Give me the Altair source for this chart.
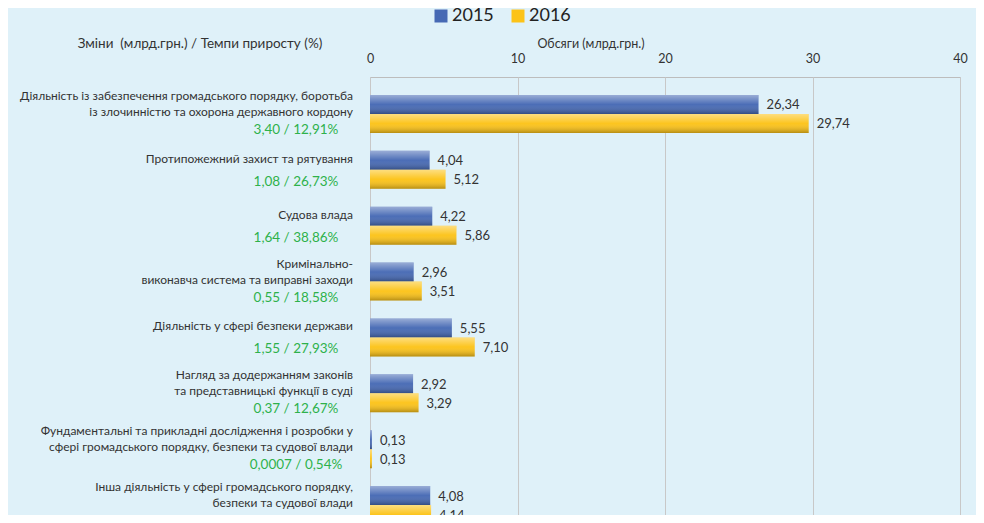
import altair as alt
import pandas as pd

categories = [
    "Діяльність із забезпечення громадського порядку, боротьба\nіз злочинністю та охорона державного кордону",
    "Протипожежний захист та рятування",
    "Судова влада",
    "Кримінально-\nвиконавча система та виправні заходи",
    "Діяльність у сфері безпеки держави",
    "Нагляд за додержанням законів\nта представницькі функції в суді",
    "Фундаментальні та прикладні дослідження і розробки у\nсфері громадського порядку, безпеки та судової влади",
    "Інша діяльність у сфері громадського порядку,\nбезпеки та судової влади",
]
years = ["2015", "2016"]
values_2015 = [26.34, 4.04, 4.22, 2.96, 5.55, 2.92, 0.13, 4.08]
values_2016 = [29.74, 5.12, 5.86, 3.51, 7.10, 3.29, 0.13, 4.14]
changes = ["3,40 / 12,91%", "1,08 / 26,73%", "1,64 / 38,86%", "0,55 / 18,58%",
           "1,55 / 27,93%", "0,37 / 12,67%", "0,0007 / 0,54%", "0,06 / 1,47%"]
x_ticks = [0, 10, 20, 30, 40]
left_header = "Зміни\u00a0 (млрд.грн.) / Темпи приросту (%)"
axis_header = "Обсяги (млрд.грн.)"

FONT = "Lato"
BLUE = "#4669b4"
YELLOW = "#fcc318"

rows = []
for c, a, b in zip(categories, values_2015, values_2016):
    rows.append({"cat": c, "year": "2015", "value": a, "label": f"{a:.2f}".replace(".", ",")})
    rows.append({"cat": c, "year": "2016", "value": b, "label": f"{b:.2f}".replace(".", ",")})
df = pd.DataFrame(rows)
cat_df = pd.DataFrame({"cat": categories, "change": changes})

yscale = alt.Scale(domain=categories, range=[0, 465], paddingInner=0.32, paddingOuter=0.322)
y_enc = alt.Y("cat:N", scale=yscale, axis=None, sort=categories)
yoff = alt.YOffset("year:N", scale=alt.Scale(domain=years, paddingInner=0, paddingOuter=0))
x_enc = alt.X("value:Q", scale=alt.Scale(domain=[0, 40]),
              axis=alt.Axis(orient="top", values=x_ticks, title="", domain=False, ticks=False,
                            labelPadding=12, labelFontSize=12.5, labelColor="#333333",
                            labelFont=FONT, gridColor="#c8c8c8", labelFlush=False))

base = alt.Chart(df)

bars = base.mark_bar().encode(
    x=x_enc, y=y_enc, yOffset=yoff,
    color=alt.Color("year:N", scale=alt.Scale(domain=years, range=[BLUE, YELLOW]),
                    legend=alt.Legend(title="", orient="none", legendX=62, legendY=-70,
                                      direction="horizontal", symbolType="square",
                                      symbolSize=169, labelFontSize=18, labelFont=FONT,
                                      labelColor="#222222", columnPadding=15, labelOffset=2,
                                      padding=0, symbolStrokeWidth=0)),
)

gradient = alt.LinearGradient(
    gradient="linear", x1=0, y1=0, x2=0, y2=1,
    stops=[alt.GradientStop(offset=0, color="rgba(255,255,255,0.45)"),
           alt.GradientStop(offset=0.5, color="rgba(255,255,255,0.03)"),
           alt.GradientStop(offset=1, color="rgba(0,0,0,0.28)")])
shade = base.mark_bar(color=gradient).encode(x="value:Q", y=y_enc, yOffset=yoff)

value_labels = base.mark_text(align="left", baseline="middle", dx=8, dy=1, fontSize=13,
                              font=FONT, color="#333333").encode(
    x="value:Q", y=y_enc, yOffset=yoff, text="label:N")

multi = "indexof(datum.cat, '\\n') >= 0"
single = "indexof(datum.cat, '\\n') < 0"

cat_one = alt.Chart(cat_df).transform_filter(single).mark_text(
    align="right", baseline="middle", dy=-11, fontSize=12,
    font=FONT, color="#333333").encode(x=alt.value(-17), y=y_enc, text="cat:N")

cat_two = alt.Chart(cat_df).transform_filter(multi).mark_text(
    align="right", baseline="middle", dy=-18, fontSize=12, font=FONT, color="#333333",
    lineBreak="\n", lineHeight=16).encode(x=alt.value(-17), y=y_enc, text="cat:N")

chg_one = alt.Chart(cat_df).transform_filter(single).mark_text(
    align="center", baseline="middle", dy=12, fontSize=13.5,
    font=FONT, color="#2eb14b").encode(x=alt.value(-74), y=y_enc, text="change:N")

chg_two = alt.Chart(cat_df).transform_filter(multi).mark_text(
    align="center", baseline="middle", dy=16, fontSize=13.5,
    font=FONT, color="#2eb14b").encode(x=alt.value(-74), y=y_enc, text="change:N")

hdr_df = pd.DataFrame({"t": [left_header]})
left_hdr = alt.Chart(hdr_df).mark_text(align="center", baseline="middle", fontSize=13.5,
                                       font=FONT, color="#333333").encode(
    x=alt.value(-170), y=alt.value(-33), text="t:N")
ax_df = pd.DataFrame({"t": [axis_header]})
ax_hdr = alt.Chart(ax_df).mark_text(align="center", baseline="middle", fontSize=12.5,
                                    font=FONT, color="#333333").encode(
    x=alt.value(221), y=alt.value(-33), text="t:N")

chart = alt.layer(bars, shade, value_labels, cat_one, cat_two, chg_one, chg_two,
                  left_hdr, ax_hdr).properties(
    width=590, height=438,
    padding={"left": 362, "top": 69, "right": 16, "bottom": 0},
    autosize=alt.AutoSizeParams(type="none"),
).configure(background="#dff1f9").configure_view(stroke="#bdbdbd", strokeWidth=1)

chart.save("out.html", embed_options={"renderer": "svg", "actions": False})
